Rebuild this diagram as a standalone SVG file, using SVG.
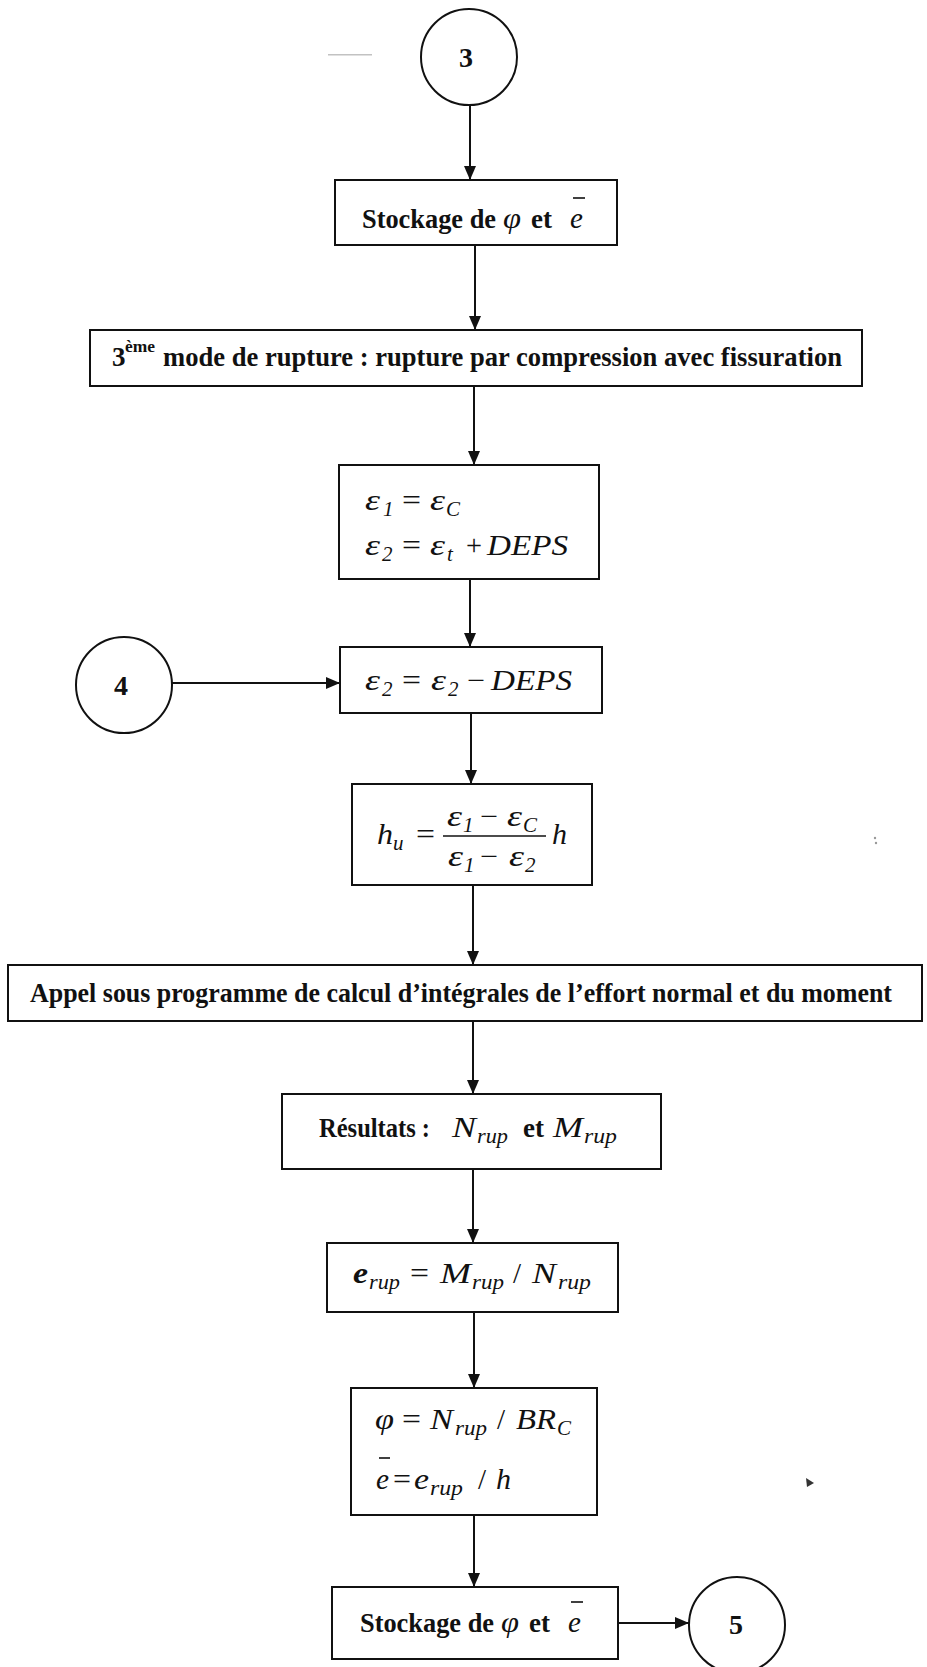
<svg xmlns="http://www.w3.org/2000/svg" width="927" height="1667" viewBox="0 0 927 1667">
  <style>
    .box { fill: #fff; stroke: #111; stroke-width: 2; }
    .circ { fill: #fff; stroke: #111; stroke-width: 2; }
    .wire { fill: none; stroke: #111; stroke-width: 2; marker-end: url(#arrow); }
    .bar { stroke: #111; stroke-width: 1.6; }
    text { fill: #111; }
    .b { font-family: "Liberation Serif", serif; font-weight: bold; font-size: 27px; }
    .n { font-family: "Liberation Serif", serif; font-weight: bold; font-size: 28px; }
    .m { font-family: "Liberation Serif", serif; font-style: italic; font-size: 29px; }
    .mb { font-family: "Liberation Serif", serif; font-style: italic; font-weight: bold; font-size: 29px; }
    .u { font-family: "Liberation Serif", serif; font-size: 29px; }
    .s { font-family: "Liberation Serif", serif; font-style: italic; font-size: 21px; }
    .sup { font-family: "Liberation Serif", serif; font-weight: bold; font-size: 16px; }
  </style>
  <defs>
    <marker id="arrow" viewBox="0 0 14 12" refX="14" refY="6" markerWidth="14" markerHeight="12" markerUnits="userSpaceOnUse" orient="auto">
      <path d="M0,0 L14,6 L0,12 Z" fill="#111"/>
    </marker>
  </defs>
  <rect width="927" height="1667" fill="#fff"/>

  <!-- faint specks -->
  <g id="specks" fill="#999" stroke="none">
    <rect x="328" y="54" width="44" height="1.5" opacity="0.6"/>
    <path d="M806,1478 L814,1483 L807,1487 Z" fill="#333"/>
    <circle cx="875" cy="838" r="1.2"/>
    <circle cx="876" cy="843" r="1.2"/>
  </g>

  <!-- connectors -->
  <g id="connectors">
    <path class="wire" d="M470,105 V180"/>
    <path class="wire" d="M475,245 V330"/>
    <path class="wire" d="M474,386 V465"/>
    <path class="wire" d="M470,579 V647"/>
    <path class="wire" d="M172,683 H340"/>
    <path class="wire" d="M471,713 V784"/>
    <path class="wire" d="M473,885 V965"/>
    <path class="wire" d="M473,1021 V1094"/>
    <path class="wire" d="M473,1169 V1243"/>
    <path class="wire" d="M474,1312 V1388"/>
    <path class="wire" d="M474,1515 V1587"/>
    <path class="wire" d="M618,1623 H689"/>
  </g>

  <!-- connector circle 3 -->
  <g id="c3">
    <circle class="circ" cx="469" cy="57" r="48"/>
    <text class="n" x="466" y="67" text-anchor="middle">3</text>
  </g>

  <!-- store phi and e-bar -->
  <g id="store1">
    <rect class="box" x="335" y="180" width="282" height="65"/>
    <text class="b" x="362" y="228" textLength="134" lengthAdjust="spacingAndGlyphs">Stockage de</text>
    <text class="m" x="503" y="228" textLength="18" lengthAdjust="spacingAndGlyphs">φ</text>
    <text class="b" x="531" y="228">et</text>
    <text class="m" x="570" y="228">e</text>
    <line class="bar" x1="573" y1="198" x2="585" y2="198"/>
  </g>

  <!-- third failure mode -->
  <g id="mode3">
    <rect class="box" x="90" y="330" width="772" height="56"/>
    <text class="b" x="112" y="366">3</text>
    <text class="sup" x="125" y="352" textLength="30" lengthAdjust="spacingAndGlyphs">ème</text>
    <text class="b" x="163" y="366" textLength="679" lengthAdjust="spacingAndGlyphs">mode de rupture : rupture par compression avec fissuration</text>
  </g>

  <!-- initial strains -->
  <g id="init">
    <rect class="box" x="339" y="465" width="260" height="114"/>
    <text class="m" x="365" y="510" textLength="15" lengthAdjust="spacingAndGlyphs">ε</text>
    <text class="s" x="383" y="516">1</text>
    <text class="u" x="402" y="510" textLength="19" lengthAdjust="spacingAndGlyphs">=</text>
    <text class="m" x="430" y="510" textLength="15" lengthAdjust="spacingAndGlyphs">ε</text>
    <text class="s" x="446" y="516">C</text>
    <text class="m" x="365" y="555" textLength="15" lengthAdjust="spacingAndGlyphs">ε</text>
    <text class="s" x="382" y="561">2</text>
    <text class="u" x="402" y="555" textLength="19" lengthAdjust="spacingAndGlyphs">=</text>
    <text class="m" x="430" y="555" textLength="15" lengthAdjust="spacingAndGlyphs">ε</text>
    <text class="s" x="447" y="561">t</text>
    <text class="u" x="466" y="555" textLength="16" lengthAdjust="spacingAndGlyphs">+</text>
    <text class="m" x="487" y="555" textLength="81" lengthAdjust="spacingAndGlyphs">DEPS</text>
  </g>

  <!-- connector circle 4 -->
  <g id="c4">
    <circle class="circ" cx="124" cy="685" r="48"/>
    <text class="n" x="121" y="695" text-anchor="middle">4</text>
  </g>

  <!-- decrement eps2 -->
  <g id="decr">
    <rect class="box" x="340" y="647" width="262" height="66"/>
    <text class="m" x="365" y="690" textLength="15" lengthAdjust="spacingAndGlyphs">ε</text>
    <text class="s" x="382" y="696">2</text>
    <text class="u" x="402" y="690" textLength="19" lengthAdjust="spacingAndGlyphs">=</text>
    <text class="m" x="431" y="690" textLength="15" lengthAdjust="spacingAndGlyphs">ε</text>
    <text class="s" x="448" y="696">2</text>
    <text class="u" x="467" y="690" textLength="18" lengthAdjust="spacingAndGlyphs">−</text>
    <text class="m" x="491" y="690" textLength="81" lengthAdjust="spacingAndGlyphs">DEPS</text>
  </g>

  <!-- neutral axis depth -->
  <g id="hu">
    <rect class="box" x="352" y="784" width="240" height="101"/>
    <text class="m" x="377" y="844" textLength="16" lengthAdjust="spacingAndGlyphs">h</text>
    <text class="s" x="393" y="850">u</text>
    <text class="u" x="416" y="844" textLength="19" lengthAdjust="spacingAndGlyphs">=</text>
    <text class="m" x="447" y="826" textLength="15" lengthAdjust="spacingAndGlyphs">ε</text>
    <text class="s" x="463" y="832">1</text>
    <text class="u" x="480" y="826" textLength="18" lengthAdjust="spacingAndGlyphs">−</text>
    <text class="m" x="507" y="826" textLength="15" lengthAdjust="spacingAndGlyphs">ε</text>
    <text class="s" x="523" y="832">C</text>
    <line class="bar" x1="443" y1="836" x2="546" y2="836"/>
    <text class="m" x="448" y="866" textLength="15" lengthAdjust="spacingAndGlyphs">ε</text>
    <text class="s" x="464" y="872">1</text>
    <text class="u" x="480" y="866" textLength="18" lengthAdjust="spacingAndGlyphs">−</text>
    <text class="m" x="509" y="866" textLength="15" lengthAdjust="spacingAndGlyphs">ε</text>
    <text class="s" x="525" y="872">2</text>
    <text class="m" x="552" y="844" textLength="15" lengthAdjust="spacingAndGlyphs">h</text>
  </g>

  <!-- integral subroutine call -->
  <g id="call">
    <rect class="box" x="8" y="965" width="914" height="56"/>
    <text class="b" x="30" y="1002" textLength="862" lengthAdjust="spacingAndGlyphs">Appel sous programme de calcul d’intégrales de l’effort normal et du moment</text>
  </g>

  <!-- results -->
  <g id="results">
    <rect class="box" x="282" y="1094" width="379" height="75"/>
    <text class="b" x="319" y="1137" textLength="111" lengthAdjust="spacingAndGlyphs">Résultats :</text>
    <text class="m" x="452" y="1137" textLength="24" lengthAdjust="spacingAndGlyphs">N</text>
    <text class="s" x="477" y="1143" textLength="31" lengthAdjust="spacingAndGlyphs">rup</text>
    <text class="b" x="523" y="1137">et</text>
    <text class="m" x="553" y="1137" textLength="30" lengthAdjust="spacingAndGlyphs">M</text>
    <text class="s" x="584" y="1143" textLength="33" lengthAdjust="spacingAndGlyphs">rup</text>
  </g>

  <!-- eccentricity -->
  <g id="ecc">
    <rect class="box" x="327" y="1243" width="291" height="69"/>
    <text class="mb" x="353" y="1283" textLength="15" lengthAdjust="spacingAndGlyphs">e</text>
    <text class="s" x="369" y="1289" textLength="31" lengthAdjust="spacingAndGlyphs">rup</text>
    <text class="u" x="410" y="1283" textLength="19" lengthAdjust="spacingAndGlyphs">=</text>
    <text class="m" x="440" y="1283" textLength="31" lengthAdjust="spacingAndGlyphs">M</text>
    <text class="s" x="472" y="1289" textLength="32" lengthAdjust="spacingAndGlyphs">rup</text>
    <text class="u" x="513" y="1283">/</text>
    <text class="m" x="532" y="1283" textLength="24" lengthAdjust="spacingAndGlyphs">N</text>
    <text class="s" x="558" y="1289" textLength="33" lengthAdjust="spacingAndGlyphs">rup</text>
  </g>

  <!-- reduced values -->
  <g id="reduced">
    <rect class="box" x="351" y="1388" width="246" height="127"/>
    <text class="m" x="375" y="1429" textLength="19" lengthAdjust="spacingAndGlyphs">φ</text>
    <text class="u" x="402" y="1429" textLength="19" lengthAdjust="spacingAndGlyphs">=</text>
    <text class="m" x="430" y="1429" textLength="23" lengthAdjust="spacingAndGlyphs">N</text>
    <text class="s" x="455" y="1435" textLength="32" lengthAdjust="spacingAndGlyphs">rup</text>
    <text class="u" x="497" y="1429">/</text>
    <text class="m" x="516" y="1429" textLength="40" lengthAdjust="spacingAndGlyphs">BR</text>
    <text class="s" x="557" y="1435">C</text>
    <text class="m" x="376" y="1489" textLength="13" lengthAdjust="spacingAndGlyphs">e</text>
    <line class="bar" x1="379" y1="1458" x2="390" y2="1458"/>
    <text class="u" x="393" y="1489" textLength="18" lengthAdjust="spacingAndGlyphs">=</text>
    <text class="m" x="414" y="1489" textLength="15" lengthAdjust="spacingAndGlyphs">e</text>
    <text class="s" x="430" y="1495" textLength="33" lengthAdjust="spacingAndGlyphs">rup</text>
    <text class="u" x="478" y="1489">/</text>
    <text class="m" x="496" y="1489" textLength="15" lengthAdjust="spacingAndGlyphs">h</text>
  </g>

  <!-- store phi and e-bar (final) -->
  <g id="store2">
    <rect class="box" x="332" y="1587" width="286" height="72"/>
    <text class="b" x="360" y="1632" textLength="134" lengthAdjust="spacingAndGlyphs">Stockage de</text>
    <text class="m" x="501" y="1632" textLength="18" lengthAdjust="spacingAndGlyphs">φ</text>
    <text class="b" x="529" y="1632">et</text>
    <text class="m" x="568" y="1632">e</text>
    <line class="bar" x1="571" y1="1602" x2="583" y2="1602"/>
  </g>

  <!-- connector circle 5 -->
  <g id="c5">
    <circle class="circ" cx="737" cy="1625" r="48"/>
    <text class="n" x="736" y="1634" text-anchor="middle">5</text>
  </g>
</svg>
